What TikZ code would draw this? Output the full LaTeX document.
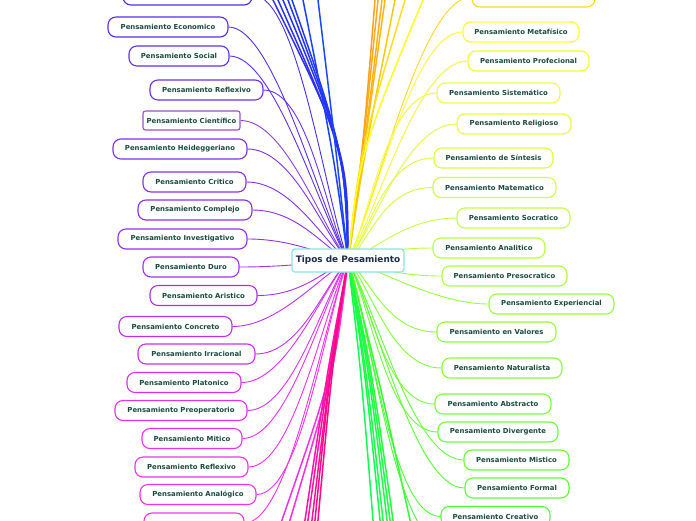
\documentclass[tikz,border=0pt]{standalone}
\usepackage{fontspec}
\setmainfont{DejaVu Sans}
\usetikzlibrary{calc}
\pgfdeclarelayer{bg}
\pgfdeclarelayer{edges}
\pgfsetlayers{bg,edges,main}
\definecolor{txt}{HTML}{1B4B3F}
\definecolor{roottxt}{HTML}{1A2B4C}
\definecolor{rootline}{HTML}{88E4E0}
% left colours
\definecolor{L0}{HTML}{4430F0}
\definecolor{L1}{HTML}{5530F0}
\definecolor{L2}{HTML}{5C30F0}
\definecolor{L3}{HTML}{6A30F0}
\definecolor{L4}{HTML}{8840F0}
\definecolor{L4b}{HTML}{9A50C8}
\definecolor{L5}{HTML}{7A30F0}
\definecolor{L6}{HTML}{8530F0}
\definecolor{L7}{HTML}{8A30F0}
\definecolor{L8}{HTML}{9530F0}
\definecolor{L9}{HTML}{A030F0}
\definecolor{L10}{HTML}{AD30F0}
\definecolor{L11}{HTML}{BB30F0}
\definecolor{L12}{HTML}{C830F0}
\definecolor{L13}{HTML}{D830F0}
\definecolor{L14}{HTML}{E030F0}
\definecolor{L15}{HTML}{E830F0}
\definecolor{L16}{HTML}{EE30F0}
\definecolor{L17}{HTML}{F230F0}
\definecolor{L18}{HTML}{F830E8}
% right colours
\definecolor{R0}{HTML}{FFD820}
\definecolor{R1}{HTML}{FFFF30}
\definecolor{R2}{HTML}{F4FF30}
\definecolor{R3}{HTML}{F0FF40}
\definecolor{R4}{HTML}{E6FF40}
\definecolor{R5}{HTML}{D8FF40}
\definecolor{R6}{HTML}{D0FF40}
\definecolor{R7}{HTML}{C4FF40}
\definecolor{R8}{HTML}{B8FF40}
\definecolor{R9}{HTML}{A8FF40}
\definecolor{R10}{HTML}{98FF38}
\definecolor{R11}{HTML}{90FF38}
\definecolor{R12}{HTML}{84FF38}
\definecolor{R13}{HTML}{78FF38}
\definecolor{R14}{HTML}{6CFF38}
\definecolor{R15}{HTML}{64FF38}
\definecolor{R16}{HTML}{5CFF38}
\definecolor{R17}{HTML}{50FF38}
% bundle colours
\definecolor{B1}{HTML}{3030F0}
\definecolor{B2}{HTML}{2C30F4}
\definecolor{B3}{HTML}{2830F8}
\definecolor{B4}{HTML}{2434FA}
\definecolor{B5}{HTML}{2038FC}
\definecolor{B6}{HTML}{1C40FF}
\definecolor{B7}{HTML}{1848FF}
\definecolor{O1}{HTML}{FFA020}
\definecolor{O2}{HTML}{FFA818}
\definecolor{O3}{HTML}{FFB018}
\definecolor{O4}{HTML}{FFB810}
\definecolor{O5}{HTML}{FFC810}
\definecolor{O6}{HTML}{FFE020}
\definecolor{O7}{HTML}{FFFF20}
\definecolor{P1}{HTML}{F030E8}
\definecolor{P2}{HTML}{F830E0}
\definecolor{P3}{HTML}{FF10A8}
\definecolor{P4}{HTML}{FF10A0}
\definecolor{P5}{HTML}{FF1098}
\definecolor{P6}{HTML}{FF0890}
\definecolor{P7}{HTML}{FF0888}
\definecolor{G1}{HTML}{10FF50}
\definecolor{G2}{HTML}{14FF4C}
\definecolor{G3}{HTML}{18FF48}
\definecolor{G4}{HTML}{1CFF44}
\definecolor{G5}{HTML}{20FF40}
\definecolor{G6}{HTML}{24FF3C}
\definecolor{G7}{HTML}{30FF30}
\definecolor{G8}{HTML}{48FF30}

\tikzset{
  leaf/.style={draw=#1, line width=1.1pt, fill=white, rounded corners=8pt,
    minimum height=20pt, inner xsep=2pt, inner ysep=0pt, text=txt,
    font=\fontsize{6.9}{8}\selectfont\bfseries},
  sqleaf/.style={draw=#1, line width=1.1pt, fill=white, rounded corners=2.5pt,
    minimum height=19pt, inner xsep=2pt, inner ysep=0pt, text=txt,
    font=\fontsize{6.9}{8}\selectfont\bfseries},
  rootnode/.style={draw=rootline, line width=1.2pt, fill=white, rounded corners=3pt,
    minimum height=23pt, minimum width=112pt, inner xsep=2pt, inner ysep=0pt,
    text=roottxt, font=\fontsize{8.9}{10}\selectfont\bfseries},
  conn/.style={draw=#1, line width=0.9pt},
  bund/.style={draw=#1, line width=1.5pt}
}
\newcommand\lconn[2]{\draw[conn=#2] (#1.east) .. controls +(45,0) and ($(root.center)!0.25!(#1.east)$) .. (root.center);}
\newcommand\rconn[2]{\draw[conn=#2] (#1.west) .. controls +(-50,0) and ($(root.center)!0.25!(#1.west)$) .. (root.center);}

\begin{document}
\begin{tikzpicture}[x=1pt,y=-1pt]
\useasboundingbox (0,0) rectangle (696,520);
\clip (0,0) rectangle (696,520);
\begin{pgfonlayer}{bg}
\fill[white] (0,0) rectangle (696,520);
\end{pgfonlayer}

\node[rootnode] (root) at (348,260.5) {Tipos de Pesamiento};

% left nodes
\node[leaf=L0,  minimum width=129pt] (tl)   at (187.5,-5) {};
\node[leaf=L1,  minimum width=120pt] (eco)  at (168,27) {Pensamiento Economico};
\node[leaf=L2,  minimum width=100pt] (soc)  at (179,56) {Pensamiento Social};
\node[leaf=L3,  minimum width=113pt] (refa) at (206.5,90) {Pensamiento Reflexivo};
\node[sqleaf=L4b, minimum width=97pt] (cie) at (191.5,120.5) {Pensamiento Científico};
\node[leaf=L5,  minimum width=134pt] (hei)  at (180,149) {Pensamiento Heideggeriano};
\node[leaf=L6,  minimum width=103pt] (cri)  at (194.5,182) {Pensamiento Critico};
\node[leaf=L7,  minimum width=114pt] (com)  at (195,210) {Pensamiento Complejo};
\node[leaf=L8,  minimum width=129pt] (inv)  at (182.5,239) {Pensamiento Investigativo};
\node[leaf=L9,  minimum width=96pt]  (dur)  at (191,267) {Pensamiento Duro};
\node[leaf=L10, minimum width=107pt] (ari)  at (203.5,295.5) {Pensamiento Aristico};
\node[leaf=L11, minimum width=113pt] (con)  at (175.5,326.5) {Pensamiento Concreto};
\node[leaf=L12, minimum width=117pt] (irr)  at (196.5,354) {Pensamiento Irracional};
\node[leaf=L13, minimum width=114pt] (pla)  at (184,382.5) {Pensamiento Platonico};
\node[leaf=L14, minimum width=132pt] (pre)  at (181,410.5) {Pensamiento Preoperatorio};
\node[leaf=L15, minimum width=100pt] (mit)  at (192,438.5) {Pensamiento Mitico};
\node[leaf=L16, minimum width=113pt] (refb) at (191.5,467) {Pensamiento Reflexivo};
\node[leaf=L17, minimum width=116pt] (anal) at (198,494.5) {Pensamiento Analógico};
\node[leaf=L18, minimum width=100pt] (bl)   at (194,523) {};

% right nodes
\node[leaf=R0,  minimum width=123pt] (tr)   at (533.5,-3) {};
\node[leaf=R1,  minimum width=116pt] (met)  at (521,32) {Pensamiento Metafísico};
\node[leaf=R2,  minimum width=121pt] (prof) at (528.5,61) {Pensamiento Profecional};
\node[leaf=R3,  minimum width=123pt] (sis)  at (498.5,93) {Pensamiento Sistemático};
\node[leaf=R4,  minimum width=114pt] (rel)  at (514,124) {Pensamiento Religioso};
\node[leaf=R5,  minimum width=119pt] (sin)  at (493.5,158) {Pensamiento de Síntesis};
\node[leaf=R6,  minimum width=123pt] (mat)  at (494.5,187.5) {Pensamiento Matematico};
\node[leaf=R7,  minimum width=113pt] (soct) at (513.5,218) {Pensamiento Socratico};
\node[leaf=R8,  minimum width=112pt] (anl)  at (489,248) {Pensamiento Analitico};
\node[leaf=R9,  minimum width=125pt] (pres) at (504.5,276) {Pensamiento Presocratico};
\node[leaf=R10, minimum width=125pt] (expe) at (551.5,304) {Pensamiento Experiencial};
\node[leaf=R11, minimum width=119pt] (val)  at (496.5,332) {Pensamiento en Valores};
\node[leaf=R12, minimum width=120pt] (nat)  at (502,368) {Pensamiento Naturalista};
\node[leaf=R13, minimum width=116pt] (abst) at (493,404) {Pensamiento Abstracto};
\node[leaf=R14, minimum width=120pt] (dive) at (498,432) {Pensamiento Divergente};
\node[leaf=R15, minimum width=105pt] (mis)  at (516.5,460) {Pensamiento Mistico};
\node[leaf=R16, minimum width=104pt] (frm)  at (517,488) {Pensamiento Formal};
\node[leaf=R17, minimum width=109pt] (cre)  at (495.5,516.5) {Pensamiento Creativo};

\begin{pgfonlayer}{edges}
% connectors to the visible nodes
\lconn{tl}{L0}\lconn{eco}{L1}\lconn{soc}{L2}\lconn{refa}{L3}\lconn{cie}{L4}
\lconn{hei}{L5}\lconn{cri}{L6}\lconn{com}{L7}\lconn{inv}{L8}\lconn{dur}{L9}
\lconn{ari}{L10}\lconn{con}{L11}\lconn{irr}{L12}\lconn{pla}{L13}\lconn{pre}{L14}
\lconn{mit}{L15}\lconn{refb}{L16}\lconn{anal}{L17}\lconn{bl}{L18}
\rconn{tr}{R0}\rconn{met}{R1}\rconn{prof}{R2}\rconn{sis}{R3}\rconn{rel}{R4}
\rconn{sin}{R5}\rconn{mat}{R6}\rconn{soct}{R7}\rconn{anl}{R8}\rconn{pres}{R9}
\rconn{expe}{R10}\rconn{val}{R11}\rconn{nat}{R12}\rconn{abst}{R13}\rconn{dive}{R14}
\rconn{mis}{R15}\rconn{frm}{R16}\rconn{cre}{R17}
% connectors leaving the frame
\foreach \i/\col/\qx/\qy/\tx/\ty in {
  1/B1/348/150/253/-40, 2/B2/345.5/150/260/-40, 3/B3/346/150/266.2/-40,
  4/B4/345/150/272.8/-40, 5/B5/344.5/150/278/-40, 6/B6/333/150/295/-40,
  7/B7/336/150/313.2/-40,
  8/O1/363/150/378.2/-40, 9/O2/363/150/382/-40, 10/O3/364/150/386.8/-40,
  11/O4/364/150/390.6/-40, 12/O5/365/150/403/-40, 13/O6/360/150/417/-40,
  14/O7/360/150/439.8/-40,
  15/P1/334.5/370/268/560, 16/P2/335/370/278/560, 17/P3/327.5/370/299/560,
  18/P4/329/370/302.4/560, 19/P5/330/370/307.2/560, 20/P6/330/370/311/560,
  21/P7/331.5/370/314.4/560,
  22/G1/361/370/376.2/560, 23/G2/365/370/384/560, 24/G3/366.5/370/387.4/560,
  25/G4/369/370/391.8/560, 26/G5/370.5/370/395.2/560, 27/G6/372/370/398.6/560,
  28/G7/377/370/418.8/560}
{
  \coordinate (out\i) at (\tx,\ty);
  \draw[bund=\col] (root.center) .. controls (\qx,\qy) .. (out\i);
}
\coordinate (outg) at (445,545);
\draw[conn=G8] (outg) .. controls +(-50,0) and ($(root.center)!0.25!(outg)$) .. (root.center);
\end{pgfonlayer}
\end{tikzpicture}
\end{document}
